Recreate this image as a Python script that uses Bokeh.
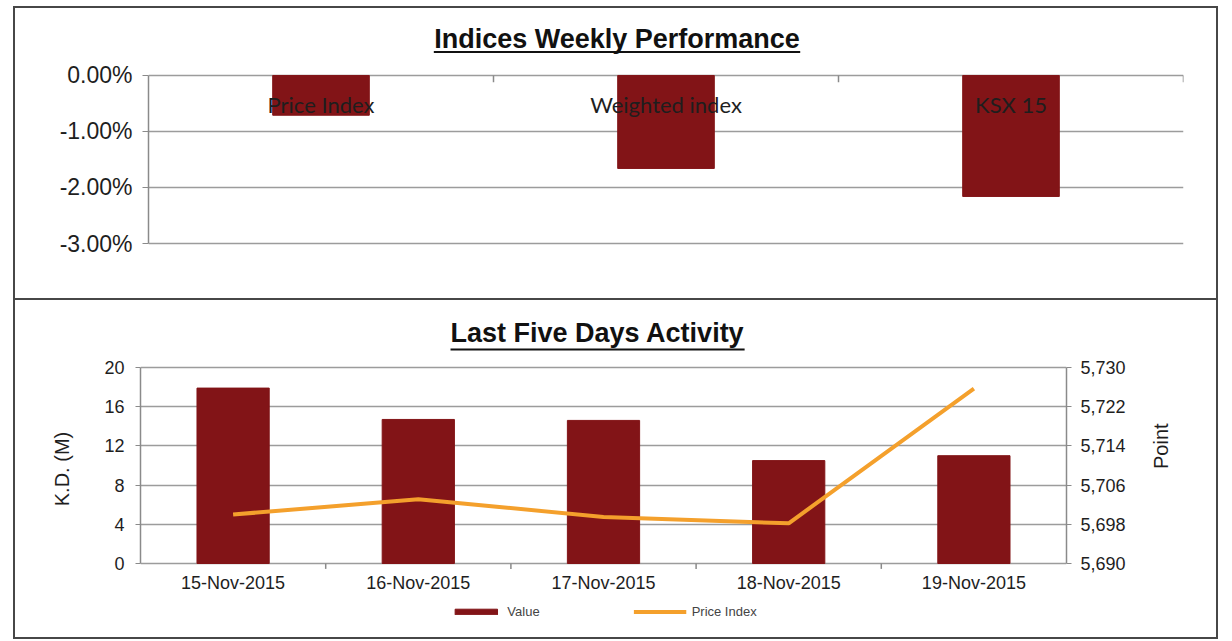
import math
from bokeh.plotting import figure
from bokeh.models import (ColumnDataSource, FixedTicker, PrintfTickFormatter, NumeralTickFormatter,
                          LinearAxis, Range1d, FactorRange, Legend, LegendItem)
from bokeh.core.properties import value
from bokeh.embed import file_html
from bokeh.resources import INLINE

# ---------------- data ----------------
indices = ["Price Index", "Weighted index", "KSX 15"]
weekly_change = [-0.71, -1.66, -2.16]          # percent
top_ticks = [0, -1, -2, -3]

days = ["15-Nov-2015", "16-Nov-2015", "17-Nov-2015", "18-Nov-2015", "19-Nov-2015"]
traded_value = [17.9, 14.7, 14.6, 10.5, 11.0]  # K.D. (M)
price_index = [5700.0, 5703.1, 5699.5, 5698.2, 5725.7]
left_ticks = [0, 4, 8, 12, 16, 20]
right_ticks = [5690, 5698, 5706, 5714, 5722, 5730]

# ---------------- style ----------------
BAR = "#821417"
LINE = "#F4A02C"
GRID = "#9c9c9c"
AXIS = "#8a8a8a"
BORDER = "#474747"
TXT = "#1e1e1e"
FONT = "Liberation Sans"
W = 1201
BOX = {"outline": f"2px solid {BORDER}"}

# ---------------- top chart ----------------
p1 = figure(width=W, height=290, x_range=FactorRange(*indices), y_range=Range1d(-3.982, 1.196),
            x_axis_location=None, output_backend="svg", toolbar_location=None,
            min_border_left=133, min_border_right=33, min_border_top=0, min_border_bottom=0)
p1.outline_line_color = None
p1.xgrid.visible = False
tk1 = FixedTicker(ticks=top_ticks)
p1.yaxis.ticker = tk1
p1.ygrid.ticker = tk1
p1.ygrid.grid_line_color = GRID
p1.ygrid.grid_line_width = 1.5
p1.yaxis.bounds = (-3, 0)
p1.yaxis.formatter = PrintfTickFormatter(format="%.2f%%")
p1.yaxis.major_label_text_font = FONT
p1.yaxis.major_label_text_font_size = "23px"
p1.yaxis.major_label_text_color = TXT
p1.yaxis.axis_line_color = AXIS
p1.yaxis.axis_line_width = 1.5
p1.yaxis.major_tick_line_color = AXIS
p1.yaxis.major_tick_in = 0
p1.yaxis.major_tick_out = 6
p1.yaxis.minor_tick_line_color = None
p1.yaxis.major_label_standoff = 10

src1 = ColumnDataSource(dict(x=indices, v=weekly_change))
p1.vbar(x="x", top=0, bottom="v", width=0.28, source=src1, fill_color=BAR, line_color=BAR)

# category-boundary tick marks on the zero line
b1 = list(range(1, len(indices) + 1))
p1.segment(x0=b1, x1=b1, y0=[0] * len(b1), y1=[-0.12] * len(b1), line_color=AXIS, line_width=1.5)

LABEL_Y = -0.52
p1.text(x=indices, y=[LABEL_Y] * len(indices), text=indices, text_align="center",
        text_baseline="middle", text_font=value("Lato"), text_font_size="22px", text_color=TXT)

T1X, T1HW, T1Y, U1Y = 1.358, 0.531, 0.643, 0.42
p1.text(x=[T1X], y=[T1Y], text=["Indices Weekly Performance"], text_align="center",
        text_baseline="middle", text_font=value(FONT), text_font_style="bold",
        text_font_size="27px", text_color="#111111")
p1.segment(x0=[T1X - T1HW], x1=[T1X + T1HW], y0=[U1Y], y1=[U1Y], line_width=2, line_color="#111111")
p1.styles = BOX
p1.margin = (8, 0, 0, 15)

# ---------------- bottom chart ----------------
p2 = figure(width=W, height=337, x_range=FactorRange(*days), y_range=Range1d(-7.551, 26.837),
            x_axis_location=None, output_backend="svg", toolbar_location=None,
            min_border_left=125, min_border_right=150, min_border_top=0, min_border_bottom=0)
p2.outline_line_color = None
p2.extra_y_ranges = {"pi": Range1d(5674.90, 5743.67)}
p2.xgrid.visible = False
tk2 = FixedTicker(ticks=left_ticks)
p2.yaxis.ticker = tk2
p2.ygrid.ticker = tk2
p2.ygrid.grid_line_color = GRID
p2.ygrid.grid_line_width = 1.5

yl = p2.yaxis[0]
yl.bounds = (0, 20)
yl.axis_label = "K.D. (M)"
yr = LinearAxis(y_range_name="pi", ticker=FixedTicker(ticks=right_ticks),
                formatter=NumeralTickFormatter(format="0,0"), bounds=(5690, 5730), axis_label="Point")
p2.add_layout(yr, "right")
for ax in (yl, yr):
    ax.major_label_text_font = FONT
    ax.major_label_text_font_size = "18px"
    ax.major_label_text_color = TXT
    ax.axis_line_color = AXIS
    ax.axis_line_width = 1.5
    ax.major_tick_line_color = AXIS
    ax.major_tick_in = 0
    ax.major_tick_out = 5
    ax.minor_tick_line_color = None
    ax.axis_label_text_font = FONT
    ax.axis_label_text_font_size = "20px"
    ax.axis_label_text_font_style = "normal"
    ax.axis_label_text_color = TXT
yl.major_label_standoff = 11
yr.major_label_standoff = 9
yl.axis_label_standoff = 28
yr.axis_label_standoff = 32
yr.axis_label_orientation = math.pi / 2
yr.axis_label_text_align = "center"

src2 = ColumnDataSource(dict(x=days, v=traded_value, pi=price_index))
bars = p2.vbar(x="x", top="v", width=0.39, source=src2, fill_color=BAR, line_color=BAR)
ln = p2.line(x="x", y="pi", source=src2, y_range_name="pi", line_color=LINE, line_width=4)

# category-boundary tick marks below the axis line
b2 = list(range(1, len(days)))
p2.segment(x0=b2, x1=b2, y0=[0] * len(b2), y1=[-0.55] * len(b2), line_color=AXIS, line_width=1.5)

XLAB_Y = -2.04
p2.text(x=days, y=[XLAB_Y] * len(days), text=days, text_align="center", text_baseline="middle",
        text_font=value(FONT), text_font_size="18px", text_color=TXT)

T2X, T2HW, T2Y, U2Y = 2.468, 0.794, 23.47, 21.84
p2.text(x=[T2X], y=[T2Y], text=["Last Five Days Activity"], text_align="center",
        text_baseline="middle", text_font=value(FONT), text_font_style="bold",
        text_font_size="27px", text_color="#111111")
p2.segment(x0=[T2X - T2HW], x1=[T2X + T2HW], y0=[U2Y], y1=[U2Y], line_width=2, line_color="#111111")

legend = Legend(items=[LegendItem(label="Value", renderers=[bars]),
                       LegendItem(label="Price Index", renderers=[ln])],
                orientation="horizontal", location="bottom_center", spacing=94,
                glyph_width=53, glyph_height=7, label_height=12, label_standoff=5,
                label_text_font=FONT, label_text_font_size="13px", label_text_color="#444444",
                padding=0, margin=18, border_line_color=None, background_fill_alpha=0)
p2.add_layout(legend)
p2.styles = BOX
p2.margin = (2, 0, 0, 15)

open("out.html", "w").write(file_html([p1, p2], INLINE))
